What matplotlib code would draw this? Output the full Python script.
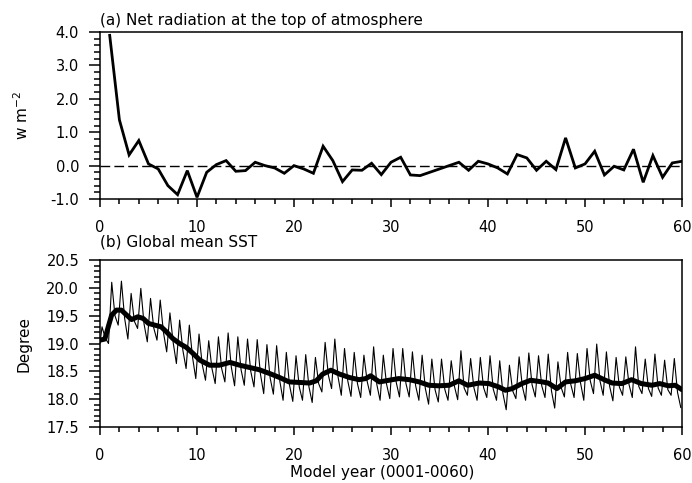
import numpy as np
import matplotlib
matplotlib.use("Agg")
import matplotlib.pyplot as plt
from matplotlib.ticker import MultipleLocator, FormatStrFormatter

plt.rcParams['font.family'] = ['DejaVu Sans']

# (a) annual net radiation at TOA, model years 1..60
rad_years = np.arange(1, 61)
net_rad = [3.90, 1.37, 0.32, 0.75, 0.05, -0.10, -0.60, -0.87, -0.15, -0.95,
           -0.20, 0.03, 0.15, -0.17, -0.15, 0.10, 0.00, -0.07, -0.23, 0.00,
           -0.10, -0.23, 0.58, 0.15, -0.48, -0.13, -0.14, 0.07, -0.27, 0.10,
           0.25, -0.28, -0.30, -0.20, -0.10, 0.00, 0.10, -0.14, 0.13, 0.05,
           -0.07, -0.25, 0.33, 0.23, -0.14, 0.13, -0.12, 0.83, -0.07, 0.05,
           0.43, -0.28, -0.02, -0.13, 0.49, -0.50, 0.30, -0.35, 0.08, 0.13]

# (b) monthly SST: per-year seasonal peak (Mar), mid-year shoulder (Jul), trough (Nov)
sst_peak = [19.30, 20.10, 20.12, 19.90, 19.99, 19.81, 19.78, 19.55, 19.42, 19.33,
            19.17, 19.05, 19.12, 19.19, 19.12, 19.08, 19.07, 18.98, 18.96, 18.84,
            18.78, 18.80, 18.75, 19.02, 19.08, 18.91, 18.84, 18.79, 18.94, 18.79,
            18.91, 18.91, 18.85, 18.79, 18.72, 18.72, 18.69, 18.87, 18.73, 18.75,
            18.78, 18.69, 18.61, 18.76, 18.83, 18.78, 18.81, 18.67, 18.84, 18.82,
            18.91, 18.99, 18.85, 18.75, 18.76, 18.94, 18.72, 18.81, 18.70, 18.73]
sst_shoulder = [19.10, 19.50, 19.45, 19.40, 19.35, 19.28, 19.20, 19.02, 18.88, 18.75,
                18.62, 18.55, 18.55, 18.57, 18.53, 18.50, 18.45, 18.38, 18.32, 18.25,
                18.22, 18.22, 18.28, 18.43, 18.40, 18.33, 18.28, 18.32, 18.26, 18.27,
                18.30, 18.28, 18.24, 18.19, 18.17, 18.18, 18.23, 18.20, 18.21, 18.21,
                18.18, 18.10, 18.15, 18.23, 18.26, 18.24, 18.15, 18.21, 18.26, 18.29,
                18.33, 18.33, 18.23, 18.22, 18.26, 18.23, 18.19, 18.20, 18.17, 18.12]
sst_trough = [19.00, 19.33, 19.08, 19.27, 19.03, 19.06, 18.85, 18.64, 18.55, 18.37,
              18.34, 18.28, 18.31, 18.24, 18.25, 18.22, 18.10, 18.09, 17.98, 17.96,
              17.98, 17.94, 18.13, 18.19, 18.07, 18.05, 18.03, 18.07, 17.98, 18.01,
              18.04, 18.04, 17.98, 17.91, 17.95, 17.98, 17.99, 18.07, 17.98, 18.03,
              17.98, 17.81, 18.01, 17.98, 18.04, 18.03, 17.84, 18.04, 18.03, 17.98,
              18.10, 18.07, 17.97, 18.07, 18.03, 18.10, 18.05, 18.07, 18.07, 17.85]
peak_month, shoulder_month, trough_month = 3, 7, 11

# 12-month running mean of SST
mean_years = [0.0, 0.5, 0.9, 1.2, 1.7, 2.2, 2.75, 3.25, 3.9, 4.45, 5.0, 5.65, 6.3, 6.85,
              7.5, 8.2, 8.9, 9.6, 10.3, 11.3, 12.3, 13.4, 14.4, 15.4, 16.4, 17.5, 18.5,
              19.5, 20.6, 21.6, 22.3, 22.95, 23.8, 24.7, 25.7, 26.7, 27.4, 27.9, 28.8,
              29.8, 30.8, 31.9, 32.9, 33.9, 34.9, 36.0, 37.0, 37.9, 39.1, 40.1, 41.1,
              41.8, 42.5, 43.5, 44.4, 45.6, 46.2, 47.1, 48.0, 49.0, 50.0, 51.0, 52.1,
              52.8, 53.8, 54.8, 55.8, 56.9, 57.7, 58.6, 59.3, 60.0]
sst_mean = [19.06, 19.08, 19.33, 19.51, 19.60, 19.60, 19.51, 19.43, 19.48, 19.45, 19.36,
            19.33, 19.30, 19.21, 19.09, 19.00, 18.93, 18.82, 18.70, 18.61, 18.61, 18.66,
            18.61, 18.57, 18.53, 18.46, 18.39, 18.31, 18.30, 18.29, 18.33, 18.45, 18.52,
            18.45, 18.39, 18.35, 18.37, 18.42, 18.31, 18.34, 18.37, 18.35, 18.31, 18.25,
            18.24, 18.25, 18.33, 18.25, 18.29, 18.28, 18.22, 18.16, 18.19, 18.28, 18.34,
            18.31, 18.29, 18.19, 18.31, 18.33, 18.37, 18.43, 18.34, 18.29, 18.28, 18.35,
            18.28, 18.25, 18.28, 18.24, 18.25, 18.17]

# assemble the seasonal zigzag (year + mid-month fraction)
thin_x, thin_y = [0.0], [19.00]
for k in range(len(sst_peak)):
    for m, v in ((peak_month, sst_peak[k]), (shoulder_month, sst_shoulder[k]),
                 (trough_month, sst_trough[k])):
        thin_x.append(k + (m - 0.5) / 12.0)
        thin_y.append(v)

fig = plt.figure(figsize=(6.92, 4.83), dpi=100)
W, H = 692.0, 483.0
ax1 = fig.add_axes([100 / W, 1 - 199 / H, 582 / W, 167 / H])
ax2 = fig.add_axes([100 / W, 1 - 427 / H, 582 / W, 167 / H])

ax1.plot(rad_years, net_rad, color='black', lw=2.0, solid_joinstyle='miter')
ax1.axhline(0, color='black', lw=1.0, dashes=(7, 3))
ax1.set_ylim(-1.0, 4.0)
ax1.yaxis.set_major_locator(MultipleLocator(1.0))
ax1.yaxis.set_minor_locator(MultipleLocator(0.2))
ax1.set_ylabel('w m$^{-2}$', fontsize=11)
ax1.set_title('(a) Net radiation at the top of atmosphere', loc='left',
              fontsize=11, pad=5)

ax2.plot(thin_x, thin_y, color='black', lw=0.8)
ax2.plot(mean_years, sst_mean, color='black', lw=3.6, solid_capstyle='round')
ax2.set_ylim(17.5, 20.5)
ax2.yaxis.set_major_locator(MultipleLocator(0.5))
ax2.yaxis.set_minor_locator(MultipleLocator(0.1))
ax2.set_ylabel('Degree', fontsize=11)
ax2.set_xlabel('Model year (0001-0060)', fontsize=11)
ax2.set_title('(b) Global mean SST', loc='left', fontsize=11, pad=10)

for ax in (ax1, ax2):
    ax.set_xlim(0, 60)
    ax.xaxis.set_major_locator(MultipleLocator(10))
    ax.xaxis.set_minor_locator(MultipleLocator(2))
    ax.yaxis.set_major_formatter(FormatStrFormatter('%.1f'))
    for s in ax.spines.values():
        s.set_linewidth(1.1)
    ax.tick_params(axis='both', which='both', direction='out', top=False,
                   right=False, width=1.1, labelsize=10.5)
    ax.tick_params(axis='x', which='major', length=6, pad=9)
    ax.tick_params(axis='x', which='minor', length=3.5)
    ax.tick_params(axis='y', which='major', length=8, pad=7)
    ax.tick_params(axis='y', which='minor', length=4.5)
    ax.yaxis.set_label_coords(-0.118, 0.5)

ax2.xaxis.set_label_coords(0.485, -0.225)

fig.savefig('out.png', dpi=100)
